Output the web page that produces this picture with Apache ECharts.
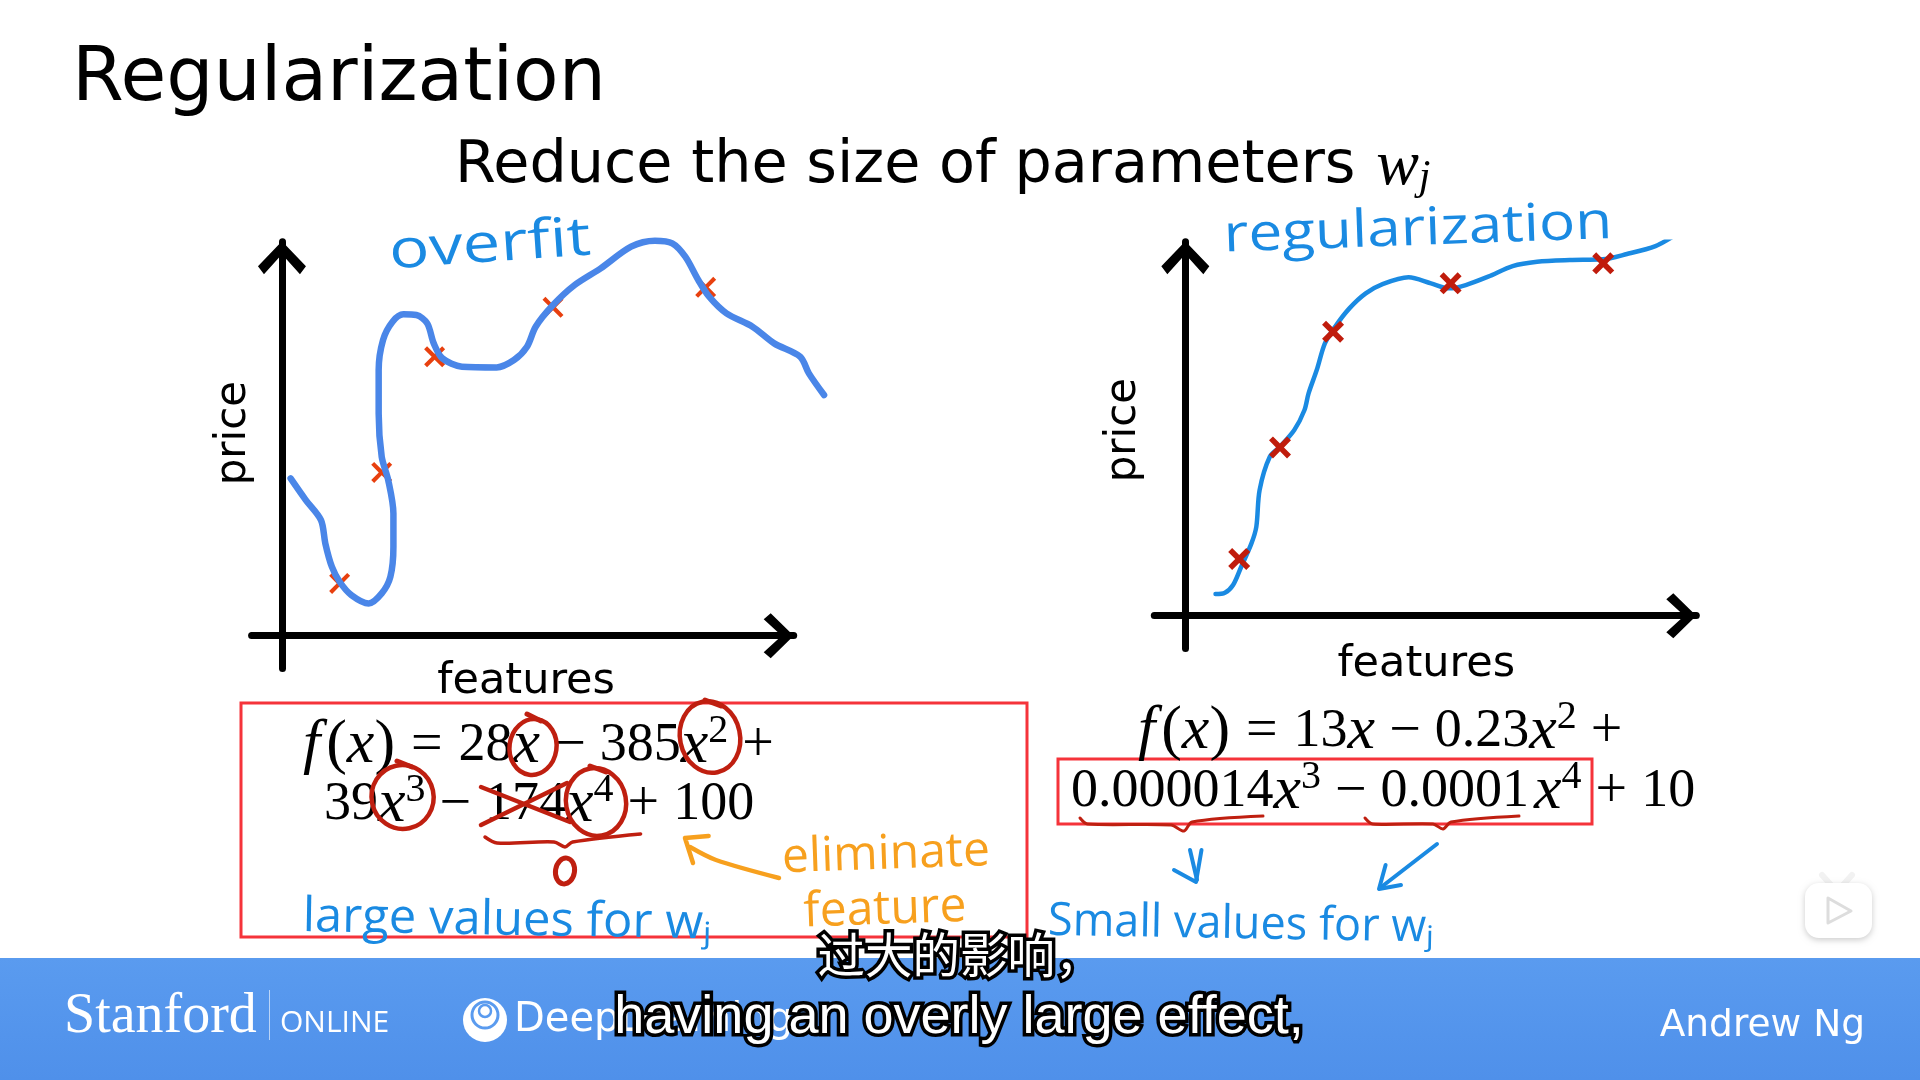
<!DOCTYPE html>
<html><head><meta charset="utf-8">
<style>html,body{margin:0;padding:0;background:#fff}#c{width:1920px;height:1080px}</style>
<script src="https://cdn.jsdelivr.net/npm/echarts@6/dist/echarts.min.js"></script>
</head><body><div id="c"></div>
<script>
// ---- data (arbitrary units, origin = axes crossing)
const overfitCurve = [[20,472],[55,407],[90,347],[100,277],[115,207],[133,162],[160,122],[200,97],[230,127],[250,177],[257,267],[257,367],[245,467],[230,537],[223,667],[223,797],[233,887],[255,942],[280,964],[310,962],[335,937],[350,877],[370,832],[415,807],[495,805],[535,827],[565,867],[585,927],[625,992],[675,1052],[735,1102],[805,1167],[860,1185],[900,1177],[930,1137],[960,1067],[985,1017],[1025,967],[1085,927],[1135,877],[1195,837],[1215,787],[1250,722]];
const overfitPoints = [[133,157],[230,490],[352,837],[625,985],[977,1045]];
const regCurve = [[74,65],[97,69],[117,92],[137,147],[162,217],[174,267],[182,377],[207,477],[232,507],[267,557],[292,617],[302,667],[322,737],[342,817],[367,867],[402,922],[442,967],[482,994],[547,1015],[602,997],[647,982],[687,992],[742,1017],[802,1049],[862,1062],[942,1067],[1022,1069],[1082,1085],[1152,1109],[1194,1137]];
const regPoints = [[132,170],[232,505],[362,852],[650,997],[1024,1057]];
const xAxisName = 'features';
const yAxisName = 'price';
const titleText = 'Regularization';
const subtitleText = 'Reduce the size of parameters {w|w}{j|j}';

const SANS = '"DejaVu Sans"';
const SERIF = '"Liberation Serif"';
const HAND = '"Open Sans"';
const BLUE = '#1a8ae2', RED = '#bf1f10', ORANGE = '#f7a01e', BOX = '#f5333a';
const chevronY = 'path://M24 0 L48 25 L42 33 L24 13 L6 33 L0 25 Z';
const chevronX = 'path://M22.5 0 L45 23 L39 30 L22.5 12 L6 30 L0 23 Z';
const crossThin = 'path://M14 0 L50 36 L86 0 L100 14 L64 50 L100 86 L86 100 L50 64 L14 100 L0 86 L36 50 L0 14 Z';
const crossBold = 'path://M18 0 L50 32 L82 0 L100 18 L68 50 L100 82 L82 100 L50 68 L18 100 L0 82 L32 50 L0 18 Z';

function axes(gridIndex, xr, yr, gapX, gapY, padX, padY) {
  const line = {show:true, onZero:true, lineStyle:{color:'#000',width:7}};
  return {
    x:{type:'value',gridIndex,min:xr[0],max:xr[1],name:xAxisName,nameLocation:'middle',nameGap:gapX,
       nameTextStyle:{color:'#000',fontFamily:SANS,fontSize:43,padding:[0,0,0,padX]},
       axisLine:Object.assign({},line,{symbol:['none',chevronX],symbolSize:[45,30],symbolOffset:[0,-15]}),
       axisTick:{show:false},axisLabel:{show:false},splitLine:{show:false}},
    y:{type:'value',gridIndex,min:yr[0],max:yr[1],name:yAxisName,nameLocation:'middle',nameGap:gapY,
       nameRotate:90,
       nameTextStyle:{color:'#000',fontFamily:SANS,fontSize:42,padding:[0,0,0,padY]},
       axisLine:Object.assign({},line,{symbol:['none',chevronY],symbolSize:[48,33],symbolOffset:[0,-16]}),
       axisTick:{show:false},axisLabel:{show:false},splitLine:{show:false}}
  };
}
const a0 = axes(0,[-70,1180],[-98,1182],-8,-3,7,44);
const a1 = axes(1,[-76,1252],[-98,1122],-5,9,2,30);
const hiddenAxis = (gridIndex,min,max)=>({type:'value',gridIndex,min,max,show:false});

const eqRich = {
  f:{fontFamily:SERIF,fontStyle:'italic',fontSize:62,lineHeight:70,padding:[0,6,0,0],color:'#000'},
  i:{fontFamily:SERIF,fontStyle:'italic',fontSize:62,lineHeight:70,color:'#000'},
  p:{fontFamily:SERIF,fontSize:62,lineHeight:70,color:'#000'},
  n:{fontFamily:SERIF,fontSize:54,lineHeight:70,color:'#000'},
  e:{fontFamily:SERIF,fontSize:56,lineHeight:70,padding:[0,16,0,16],color:'#000'},
  m:{fontFamily:SERIF,fontSize:56,lineHeight:70,padding:[0,14,0,14],color:'#000'},
  g:{fontFamily:SERIF,fontSize:20,lineHeight:70,color:'#000'},
  s:{fontFamily:SERIF,fontSize:40,lineHeight:40,verticalAlign:'top',color:'#000'}
};
function eq(x,y,text){return {type:'text',x,y,z:20,style:{text,rich:eqRich,fill:'#000',fontFamily:SERIF,fontSize:54,textAlign:'left',textVerticalAlign:'middle'}};}
function hand(x,y,text,size,fill,rot,sx){return {type:'text',x,y,scaleX:sx||1,originX:0,originY:0,rotation:(rot||0)*Math.PI/180,z:22,style:{text,fill,fontFamily:HAND,fontSize:size,textAlign:'center',textVerticalAlign:'middle'}};}
function stroke(points,color,w,smooth){return {type:'polyline',z:25,shape:{points,smooth:smooth||0},style:{stroke:color,lineWidth:w,fill:null,lineCap:'round',lineJoin:'round'}};}
function ring(cx,cy,rx,ry,rot){return {type:'ellipse',z:25,x:cx,y:cy,rotation:(rot||0)*Math.PI/180,shape:{cx:0,cy:0,rx,ry},style:{stroke:RED,lineWidth:4.5,fill:null}};}
function footerText(x,y,text,family,size,align){return {type:'text',x,y,z:30,style:{text,fill:'#fff',fontFamily:family,fontSize:size,textAlign:align||'left',textVerticalAlign:'middle'}};}
function captionText(x,y,text,family,size){return {type:'text',x,y,z:40,style:{text,fill:'#fff',fontFamily:family,fontSize:size,textAlign:'center',textVerticalAlign:'middle',stroke:'#000',lineWidth:7,strokeFirst:true}};}

const option = {
  backgroundColor:'#fff',
  animation:false,
  title:[
    {text:titleText,left:67,top:38,textStyle:{color:'#000',fontFamily:SANS,fontSize:74.5,fontWeight:'normal'}},
    {text:subtitleText,left:450,top:130,textStyle:{color:'#000',fontFamily:SANS,fontSize:58.8,fontWeight:'normal',
      rich:{w:{fontFamily:SERIF,fontStyle:'italic',fontSize:64,color:'#000',padding:[0,0,0,2]},j:{fontFamily:SERIF,fontStyle:'italic',fontSize:42,color:'#000',verticalAlign:'bottom',padding:[22,0,0,0]}}}}
  ],
  grid:[
    {left:251.6,top:241.7,width:542.1,height:426.7},
    {left:1154.3,top:241.7,width:542,height:406.7},
    // same scale as grid 0, wider so the curve can run past the arrow tip
    {left:251.6,top:235.7,width:576.8,height:432.7}
  ],
  xAxis:[a0.x,a1.x,hiddenAxis(2,-70,1260)],
  yAxis:[a0.y,a1.y,hiddenAxis(2,-98,1200)],
  series:[
    {type:'scatter',xAxisIndex:0,yAxisIndex:0,data:overfitPoints,symbol:crossThin,symbolSize:21,itemStyle:{color:'#e8400f',opacity:1},z:3},
    {type:'line',xAxisIndex:2,yAxisIndex:2,data:overfitCurve,smooth:0.3,showSymbol:false,lineStyle:{color:'#4a86e8',width:6.5,cap:'round'},z:4},
    {type:'line',xAxisIndex:1,yAxisIndex:1,data:regCurve,smooth:0.3,showSymbol:false,lineStyle:{color:'#1a8ae2',width:4.5,cap:'round'},z:3},
    {type:'scatter',xAxisIndex:1,yAxisIndex:1,data:regPoints,symbol:crossBold,symbolSize:22,itemStyle:{color:'#c01c0c',opacity:1},z:4}
  ],
  graphic:[
    // footer band
    {type:'rect',z:1,shape:{x:0,y:958,width:1920,height:122},style:{fill:new echarts.graphic.LinearGradient(0,0,0,1,[{offset:0,color:'#5a9bef'},{offset:1,color:'#4f90ea'}])}},
    footerText(64,1017,'Stanford',SERIF,56),
    {type:'rect',z:30,shape:{x:269,y:990,width:1,height:50},style:{fill:'rgba(255,255,255,0.6)'}},
    footerText(280,1023,'ONLINE','"Open Sans"',30),
    footerText(514,1021,'DeepLearning',SANS,40),
    {type:'circle',z:30,shape:{cx:485,cy:1020,r:22},style:{fill:'#fff'}},
    {type:'circle',z:31,shape:{cx:485,cy:1015,r:13},style:{fill:'none',stroke:'#5a9bef',lineWidth:3}},
    {type:'circle',z:31,shape:{cx:485,cy:1011,r:6},style:{fill:'none',stroke:'#5a9bef',lineWidth:2.5}},
    footerText(1865,1026,'Andrew Ng',SANS,37.5,'right'),
    // red boxes
    {type:'rect',z:15,shape:{x:241,y:703,width:786,height:234},style:{fill:null,stroke:BOX,lineWidth:3}},
    {type:'rect',z:15,shape:{x:1058,y:759,width:534,height:65},style:{fill:null,stroke:BOX,lineWidth:3}},
    // equations
    eq(303,746,'{f|f}{p|(}{i|x}{p|)}{e|=}{n|28}{i|x}{m|−}{n|385}{i|x}{s|2}{m|+}'),
    eq(324,805,'{n|39}{i|x}{s|3}{m|−}{n|174}{i|x}{s|4}{m|+}{n|100}'),
    eq(1138,732,'{f|f}{p|(}{i|x}{p|)}{e|=}{n|13}{i|x}{m|−}{n|0.23}{i|x}{s|2}{m|+}'),
    eq(1071,792,'{n|0.000014}{i|x}{s|3}{m|−}{n|0.0001}{g| }{i|x}{s|4}{m|+}{n|10}'),
    // hand annotations on the left equation
    ring(533,747,23.5,28,-8), ring(710,737,30,36,12), ring(402.6,797,31,32,12), ring(596,802,30,34,10),
    stroke([[527,714],[541,721]],RED,5), stroke([[705,700],[721,706]],RED,5), stroke([[397,761],[412,767]],RED,5), stroke([[590,766],[606,772]],RED,5),
    stroke([[481,825],[567,783]],RED,4.5), stroke([[481,787],[570,822]],RED,4.5),
    stroke([[485,837],[497,843],[554,842],[565,847],[572.6,842],[640.6,834]],RED,3.5,0.3),
    {type:'ellipse',z:25,x:565,y:871,shape:{cx:0,cy:0,rx:9.5,ry:13},rotation:-0.15,style:{stroke:RED,lineWidth:5,fill:null}},
    stroke([[779,878],[716,860],[690,847]],ORANGE,4.5,0.3), stroke([[693,863],[685,838],[708.6,836]],ORANGE,4.5),
    // underlines and arrows on the right equation
    stroke([[1080,818],[1087.5,824],[1171,825],[1184,831],[1192,822],[1263,816]],RED,3,0.3),
    stroke([[1365,818],[1372.6,824],[1433,824],[1443,829],[1451,822],[1519,816]],RED,3,0.3),
    stroke([[1190,850],[1197,880]],BLUE,4), stroke([[1174,870],[1196,882],[1201.5,850]],BLUE,4),
    stroke([[1437,844],[1380,888]],BLUE,4), stroke([[1385.6,865],[1379,889],[1401,885]],BLUE,4),
    // handwriting
    hand(490,246,'overfit',54,BLUE,4,1.24),
    hand(1418,230,'regularization',52,BLUE,2,1.16),
    hand(507,921,'large values for wⱼ',48,BLUE,-1,1.02),
    hand(1241,925,'Small values for wⱼ',46,BLUE,-1,0.98),
    hand(886,855,'eliminate',48,ORANGE,2),
    hand(885,910,'feature',48,ORANGE,2),
    // player badge
    stroke([[1822,875],[1831,885]],'#f2f2f2',6), stroke([[1852,875],[1843,885]],'#f2f2f2',6),
    {type:'rect',z:30,shape:{x:1805,y:883,width:67,height:55,r:14},style:{fill:'#fff',shadowBlur:6,shadowColor:'rgba(0,0,0,0.2)',shadowOffsetY:2}},
    {type:'polygon',z:31,shape:{points:[[1828,898],[1828,923],[1851,911]]},style:{fill:'#fff',stroke:'#dddddd',lineWidth:3,lineJoin:'round'}},
    // captions
    captionText(960,955,'过大的影响，','"Noto Sans CJK SC"',47.5),
    captionText(959,1018,'having an overly large effect,','"Liberation Sans"',54)
  ]
};
const chart = echarts.init(document.getElementById('c'),null,{renderer:'canvas'});
chart.setOption(option);
</script></body></html>
